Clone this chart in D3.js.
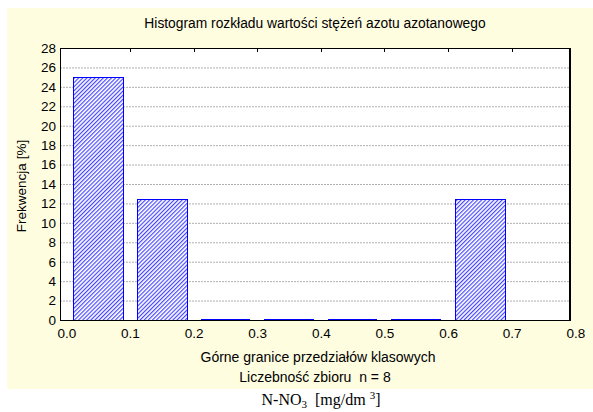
<!DOCTYPE html>
<html><head><meta charset="utf-8">
<script src="https://cdn.jsdelivr.net/npm/d3@7"></script>
<style>body{margin:0;background:#fff}svg{display:block}</style>
</head><body>
<script>
const binStarts = [0.0, 0.1, 0.2, 0.3, 0.4, 0.5, 0.6];
const frequencies = [25, 12.5, 0, 0, 0, 0, 12.5];
const xTicks = [0.0, 0.1, 0.2, 0.3, 0.4, 0.5, 0.6, 0.7, 0.8];
const yTicks = [0, 2, 4, 6, 8, 10, 12, 14, 16, 18, 20, 22, 24, 26, 28];
const titleText = "Histogram rozkładu wartości stężeń azotu azotanowego";
const xTitle = "Górne granice przedziałów klasowych";
const nText = "Liczebność zbioru  n = 8";
const yTitle = "Frekwencja [%]";

const W = 593, H = 412;
const L = 60, R = 569, T = 48, B = 320;
const svg = d3.select("body").append("svg").attr("width", W).attr("height", H);
const font = "'Liberation Sans', Arial, sans-serif";

svg.append("rect").attr("x", 7).attr("y", 8).attr("width", W - 7).attr("height", 381).attr("fill", "#fffde0");

const defs = svg.append("defs");
const pat = defs.append("pattern").attr("id", "hatch").attr("patternUnits", "userSpaceOnUse")
  .attr("width", 2.9).attr("height", 2.9).attr("patternTransform", "rotate(45)");
pat.append("rect").attr("width", 2.9).attr("height", 2.9).attr("fill", "#ffffff");
pat.append("line").attr("x1", 0.6).attr("y1", 0).attr("x2", 0.6).attr("y2", 2.9)
  .attr("stroke", "#3a3aff").attr("stroke-width", 1.1);

const x = d3.scaleLinear().domain([-0.01, 0.79]).range([L, R]);
const y = d3.scaleLinear().domain([0, 28]).range([B, T]);

svg.append("rect").attr("x", L).attr("y", T).attr("width", R - L).attr("height", B - T).attr("fill", "#fff");

// grid
svg.append("g").selectAll("line").data(yTicks.filter(v => v > 0 && v < 28)).join("line")
  .attr("x1", L).attr("x2", R).attr("y1", d => y(d) + 0.5).attr("y2", d => y(d) + 0.5)
  .attr("stroke", "#b0b0b0").attr("stroke-dasharray", "2,1");

// bars
const bw = 0.078, off = 0.011;
const g = svg.append("g");
binStarts.forEach((s, i) => {
  const v = frequencies[i];
  const x0 = Math.round(x(s + off)), x1 = Math.round(x(s + off + bw));
  if (v > 0) {
    g.append("rect").attr("x", x0 + 0.5).attr("y", Math.round(y(v)) + 0.5)
      .attr("width", x1 - x0).attr("height", B - Math.round(y(v)))
      .attr("fill", "url(#hatch)").attr("stroke", "#0000ff").attr("stroke-width", 1);
  } else {
    g.append("rect").attr("x", x0).attr("y", B - 1).attr("width", x1 - x0).attr("height", 1)
      .attr("fill", "#0000ff");
  }
});

// top inner ticks
svg.append("g").selectAll("line").data(xTicks.filter(v => v > 0 && v < 0.8)).join("line")
  .attr("x1", d => Math.round(x(d)) + 0.5).attr("x2", d => Math.round(x(d)) + 0.5)
  .attr("y1", T).attr("y2", T + 4).attr("stroke", "#000");

// frame
svg.append("rect").attr("x", L + 0.5).attr("y", T + 0.5).attr("width", R - L).attr("height", B - T)
  .attr("fill", "none").attr("stroke", "#000");
svg.append("line").attr("x1", R + 1.5).attr("x2", R + 1.5).attr("y1", T).attr("y2", B + 1).attr("stroke", "#000");

// axes labels
const xAxis = d3.axisBottom(x).tickValues(xTicks).tickFormat(d3.format(".1f")).tickSize(0).tickPadding(8);
const gx = svg.append("g").attr("transform", `translate(0,${B})`).call(xAxis);
gx.select(".domain").remove();
gx.selectAll("text").attr("font-family", font).attr("font-size", 13.5).attr("fill", "#000");

const yAxis = d3.axisLeft(y).tickValues(yTicks).tickSize(0).tickPadding(4);
const gy = svg.append("g").attr("transform", `translate(${L},0)`).call(yAxis);
gy.select(".domain").remove();
gy.selectAll("text").attr("font-family", font).attr("font-size", 13.5).attr("fill", "#000");

svg.append("text").attr("x", 315).attr("y", 28).attr("text-anchor", "middle")
  .attr("font-family", font).attr("font-size", 13.8).text(titleText);
svg.append("text").attr("x", 318).attr("y", 362).attr("text-anchor", "middle")
  .attr("font-family", font).attr("font-size", 14).text(xTitle);
svg.append("text").attr("x", 315).attr("y", 382).attr("text-anchor", "middle").attr("xml:space", "preserve")
  .attr("font-family", font).attr("font-size", 14).text(nText);
svg.append("text").attr("transform", `translate(26,186) rotate(-90)`).attr("text-anchor", "middle")
  .attr("font-family", font).attr("font-size", 13.5).text(yTitle);

const unit = svg.append("text").attr("x", 321).attr("y", 405).attr("text-anchor", "middle")
  .attr("font-family", "'Liberation Serif', 'Times New Roman', serif").attr("font-size", 16).attr("xml:space", "preserve");
unit.append("tspan").text("N-NO");
unit.append("tspan").attr("font-size", 11).attr("dy", 3).text("3");
unit.append("tspan").attr("dy", -3).text("  [mg/dm ");
unit.append("tspan").attr("font-size", 11).attr("dy", -6).text("3");
unit.append("tspan").attr("dy", 6).text("]");
</script>
</body></html>
